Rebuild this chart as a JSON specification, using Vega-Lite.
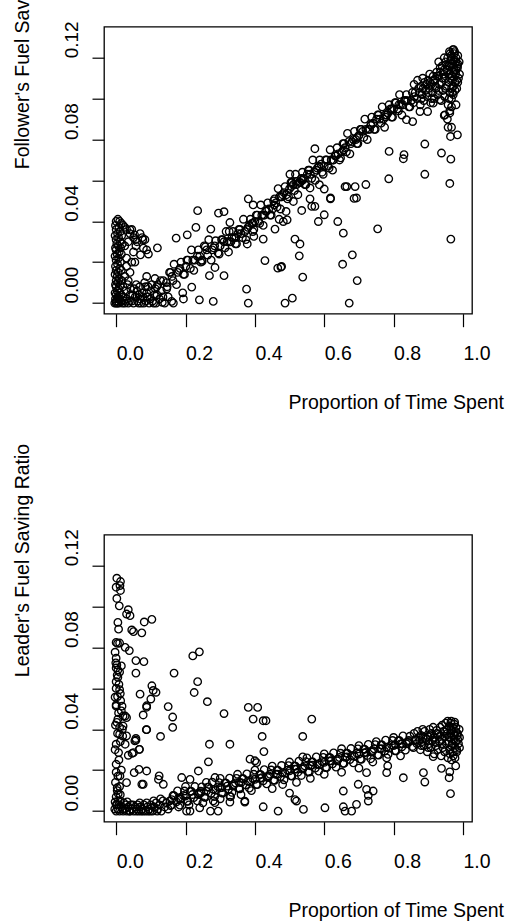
{
"$schema":"https://vega.github.io/schema/vega-lite/v6.json",
"autosize":{"type":"none"},
"padding":{"left":104,"top":26.7,"right":407,"bottom":895},
"background":"white",
"bounds":"flush",
"spacing":221,
"config":{
 "view":{"stroke":"black","strokeWidth":1.3},
 "axis":{"grid":false,"domain":false,"tickColor":"black","tickWidth":1.2,"labelColor":"black","titleColor":"black","labelFont":"Liberation Sans","titleFont":"Liberation Sans","titleFontWeight":"normal","labelOverlap":false,"labelFlush":false,"labelBound":false}
},
"datasets":{
"f":[
{"x":0.0,"y":0.04},{"x":0.005,"y":0.041},{"x":0.01,"y":0.04},{"x":0.015,"y":0.039},{"x":-0.002,"y":0.038},{"x":0.008,"y":0.037},{"x":0.02,"y":0.038},{"x":0.0,"y":0.036},{"x":0.012,"y":0.035},{"x":0.004,"y":0.034},{"x":-0.003,"y":0.033},{"x":0.016,"y":0.033},{"x":0.007,"y":0.032},{"x":0.0,"y":0.031},{"x":0.011,"y":0.03},{"x":0.002,"y":0.029},{"x":0.018,"y":0.029},{"x":0.006,"y":0.028},{"x":-0.002,"y":0.027},{"x":0.013,"y":0.027},{"x":0.0,"y":0.026},{"x":0.009,"y":0.025},{"x":0.003,"y":0.024},{"x":0.015,"y":0.024},{"x":-0.003,"y":0.023},{"x":0.007,"y":0.022},{"x":0.0,"y":0.021},{"x":0.012,"y":0.02},{"x":0.004,"y":0.019},{"x":-0.002,"y":0.018},{"x":0.01,"y":0.017},{"x":0.0,"y":0.016},{"x":0.006,"y":0.015},{"x":0.015,"y":0.016},{"x":-0.003,"y":0.014},{"x":0.003,"y":0.013},{"x":0.009,"y":0.012},{"x":0.0,"y":0.011},{"x":0.016,"y":0.011},{"x":0.005,"y":0.01},{"x":-0.002,"y":0.009},{"x":0.012,"y":0.009},{"x":0.0,"y":0.008},{"x":0.007,"y":0.007},{"x":0.02,"y":0.008},{"x":0.003,"y":0.006},{"x":-0.003,"y":0.005},{"x":0.01,"y":0.005},{"x":0.0,"y":0.004},{"x":0.015,"y":0.004},{"x":0.005,"y":0.003},{"x":-0.002,"y":0.002},{"x":0.009,"y":0.002},{"x":0.0,"y":0.001},{"x":0.013,"y":0.001},{"x":0.004,"y":0.0},{"x":0.0,"y":0.0},{"x":0.008,"y":0.0},{"x":0.018,"y":0.0},{"x":-0.004,"y":0.0},
{"x":0.025,"y":0.037},{"x":0.03,"y":0.036},{"x":0.045,"y":0.036},{"x":0.04,"y":0.034},{"x":0.05,"y":0.032},{"x":0.057,"y":0.028},{"x":0.069,"y":0.034},{"x":0.075,"y":0.032},{"x":0.077,"y":0.031},{"x":0.083,"y":0.031},{"x":0.088,"y":0.026},{"x":0.093,"y":0.024},{"x":0.119,"y":0.027},{"x":0.05,"y":0.025},{"x":0.06,"y":0.03},{"x":0.035,"y":0.03},{"x":0.025,"y":0.028},{"x":0.03,"y":0.022},{"x":0.045,"y":0.02},{"x":0.054,"y":0.02},{"x":0.04,"y":0.015},{"x":0.035,"y":0.011},{"x":0.088,"y":0.013},{"x":0.112,"y":0.012},{"x":0.136,"y":0.011},{"x":0.146,"y":0.007},{"x":0.117,"y":0.008},{"x":0.025,"y":0.013},{"x":0.03,"y":0.018},{"x":0.04,"y":0.0358},{"x":0.053,"y":0.0334},{"x":0.056,"y":0.031},{"x":0.07,"y":0.0236},{"x":0.0785,"y":0.0269},
{"x":0.025,"y":0.0},{"x":0.03,"y":0.002},{"x":0.035,"y":0.0},{"x":0.04,"y":0.004},{"x":0.045,"y":0.001},{"x":0.05,"y":0.0},{"x":0.055,"y":0.003},{"x":0.06,"y":0.006},{"x":0.065,"y":0.0},{"x":0.07,"y":0.002},{"x":0.075,"y":0.005},{"x":0.08,"y":0.0},{"x":0.085,"y":0.008},{"x":0.09,"y":0.003},{"x":0.095,"y":0.0},{"x":0.1,"y":0.006},{"x":0.105,"y":0.001},{"x":0.11,"y":0.004},{"x":0.115,"y":0.0},{"x":0.12,"y":0.009},{"x":0.125,"y":0.002},{"x":0.13,"y":0.006},{"x":0.14,"y":0.0},{"x":0.145,"y":0.01},{"x":0.15,"y":0.003},{"x":0.028,"y":0.006},{"x":0.033,"y":0.009},{"x":0.042,"y":0.007},{"x":0.048,"y":0.004},{"x":0.058,"y":0.009},{"x":0.062,"y":0.001},{"x":0.068,"y":0.008},{"x":0.072,"y":0.0},{"x":0.078,"y":0.003},{"x":0.082,"y":0.01},{"x":0.088,"y":0.005},{"x":0.092,"y":0.008},{"x":0.098,"y":0.002},{"x":0.103,"y":0.009},{"x":0.108,"y":0.0},{"x":0.113,"y":0.007},{"x":0.118,"y":0.004},{"x":0.128,"y":0.011},{"x":0.135,"y":0.003},{"x":0.02,"y":0.003},{"x":0.022,"y":0.001},{"x":0.038,"y":0.001},{"x":0.052,"y":0.007},{"x":0.066,"y":0.004},{"x":0.086,"y":0.001},
{"x":0.147,"y":0.008},{"x":0.154,"y":0.015},{"x":0.157,"y":0.015},{"x":0.164,"y":0.011},{"x":0.167,"y":0.019},{"x":0.174,"y":0.009},{"x":0.177,"y":0.015},{"x":0.184,"y":0.017},{"x":0.187,"y":0.020},{"x":0.194,"y":0.014},{"x":0.197,"y":0.014},{"x":0.204,"y":0.021},{"x":0.207,"y":0.021},{"x":0.214,"y":0.017},{"x":0.217,"y":0.026},{"x":0.224,"y":0.016},{"x":0.227,"y":0.021},{"x":0.234,"y":0.023},{"x":0.237,"y":0.026},{"x":0.244,"y":0.020},{"x":0.247,"y":0.021},{"x":0.254,"y":0.028},{"x":0.257,"y":0.0275},{"x":0.264,"y":0.0235},{"x":0.267,"y":0.031},{"x":0.274,"y":0.021},{"x":0.277,"y":0.026},{"x":0.284,"y":0.028},{"x":0.287,"y":0.0305},{"x":0.294,"y":0.0245},{"x":0.297,"y":0.024},{"x":0.304,"y":0.031},{"x":0.307,"y":0.031},{"x":0.314,"y":0.027},{"x":0.317,"y":0.035},{"x":0.324,"y":0.025},{"x":0.327,"y":0.030},{"x":0.334,"y":0.032},{"x":0.337,"y":0.035},{"x":0.344,"y":0.029},{"x":0.347,"y":0.029},{"x":0.354,"y":0.036},{"x":0.357,"y":0.036},{"x":0.364,"y":0.032},{"x":0.367,"y":0.041},{"x":0.374,"y":0.031},{"x":0.377,"y":0.036},{"x":0.384,"y":0.038},{"x":0.387,"y":0.041},{"x":0.394,"y":0.035},{"x":0.397,"y":0.036},{"x":0.404,"y":0.043},{"x":0.407,"y":0.043},{"x":0.414,"y":0.039},{"x":0.417,"y":0.048},{"x":0.424,"y":0.038},{"x":0.427,"y":0.043},{"x":0.434,"y":0.045},{"x":0.437,"y":0.049},{"x":0.444,"y":0.043},{"x":0.447,"y":0.043},{"x":0.454,"y":0.050},{"x":0.457,"y":0.051},{"x":0.464,"y":0.047},{"x":0.467,"y":0.056},{"x":0.474,"y":0.046},{"x":0.477,"y":0.052},{"x":0.484,"y":0.054},{"x":0.487,"y":0.057},{"x":0.494,"y":0.051},{"x":0.497,"y":0.052},{"x":0.504,"y":0.059},{"x":0.507,"y":0.059},{"x":0.514,"y":0.055},{"x":0.517,"y":0.063},{"x":0.524,"y":0.053},{"x":0.527,"y":0.059},{"x":0.534,"y":0.061},{"x":0.537,"y":0.064},{"x":0.544,"y":0.058},{"x":0.547,"y":0.058},{"x":0.554,"y":0.065},{"x":0.557,"y":0.065},{"x":0.564,"y":0.061},{"x":0.567,"y":0.070},{"x":0.574,"y":0.060},{"x":0.577,"y":0.065},{"x":0.584,"y":0.067},{"x":0.587,"y":0.070},{"x":0.594,"y":0.064},{"x":0.597,"y":0.063},{"x":0.604,"y":0.070},{"x":0.607,"y":0.070},{"x":0.614,"y":0.066},{"x":0.617,"y":0.075},{"x":0.624,"y":0.065},{"x":0.627,"y":0.070},{"x":0.634,"y":0.072},{"x":0.637,"y":0.076},{"x":0.644,"y":0.070},{"x":0.647,"y":0.071},{"x":0.654,"y":0.078},{"x":0.657,"y":0.078},{"x":0.664,"y":0.074},{"x":0.667,"y":0.083},{"x":0.674,"y":0.073},{"x":0.677,"y":0.078},{"x":0.684,"y":0.080},{"x":0.687,"y":0.084},{"x":0.694,"y":0.078},{"x":0.697,"y":0.078},{"x":0.704,"y":0.085},{"x":0.707,"y":0.085},{"x":0.714,"y":0.081},{"x":0.717,"y":0.090},{"x":0.724,"y":0.080},{"x":0.727,"y":0.085},{"x":0.734,"y":0.087},{"x":0.737,"y":0.091},{"x":0.744,"y":0.085},{"x":0.747,"y":0.085},{"x":0.754,"y":0.092},{"x":0.757,"y":0.092},{"x":0.764,"y":0.088},{"x":0.767,"y":0.096},{"x":0.774,"y":0.086},{"x":0.777,"y":0.091},{"x":0.784,"y":0.093},{"x":0.787,"y":0.097},{"x":0.794,"y":0.091},{"x":0.797,"y":0.091},{"x":0.804,"y":0.098},{"x":0.807,"y":0.098},{"x":0.814,"y":0.094},{"x":0.817,"y":0.102},{"x":0.824,"y":0.092},{"x":0.827,"y":0.097},{"x":0.834,"y":0.099},{"x":0.837,"y":0.102},{"x":0.844,"y":0.096},{"x":0.847,"y":0.096},{"x":0.854,"y":0.103},
{"x":0.3,"y":0.028},{"x":0.32,"y":0.030},{"x":0.34,"y":0.032},{"x":0.36,"y":0.034},{"x":0.38,"y":0.037},{"x":0.4,"y":0.040},{"x":0.42,"y":0.043},{"x":0.44,"y":0.046},{"x":0.46,"y":0.049},{"x":0.48,"y":0.053},{"x":0.5,"y":0.056},{"x":0.52,"y":0.058},{"x":0.54,"y":0.061},{"x":0.56,"y":0.063},{"x":0.58,"y":0.066},{"x":0.6,"y":0.067},{"x":0.62,"y":0.070},{"x":0.64,"y":0.073},{"x":0.66,"y":0.076},{"x":0.68,"y":0.079},{"x":0.7,"y":0.082},{"x":0.72,"y":0.085},{"x":0.74,"y":0.088},{"x":0.76,"y":0.090},{"x":0.78,"y":0.092},{"x":0.8,"y":0.095},{"x":0.82,"y":0.097},{"x":0.84,"y":0.099},
{"x":0.311,"y":0.030},{"x":0.331,"y":0.030},{"x":0.351,"y":0.034},{"x":0.371,"y":0.035},{"x":0.391,"y":0.039},{"x":0.411,"y":0.040},{"x":0.431,"y":0.045},{"x":0.451,"y":0.046},{"x":0.471,"y":0.052},{"x":0.491,"y":0.053},{"x":0.511,"y":0.058},{"x":0.531,"y":0.059},{"x":0.551,"y":0.063},{"x":0.571,"y":0.064},{"x":0.591,"y":0.068},{"x":0.611,"y":0.067},{"x":0.631,"y":0.072},{"x":0.651,"y":0.074},{"x":0.671,"y":0.079},{"x":0.691,"y":0.080},{"x":0.711,"y":0.084},{"x":0.731,"y":0.085},{"x":0.751,"y":0.090},{"x":0.771,"y":0.090},{"x":0.791,"y":0.095},{"x":0.811,"y":0.095},{"x":0.831,"y":0.099},{"x":0.851,"y":0.099},{"x":0.161,"y":0.013},{"x":0.181,"y":0.016},{"x":0.201,"y":0.018},{"x":0.221,"y":0.021},{"x":0.241,"y":0.023},{"x":0.261,"y":0.026},{"x":0.281,"y":0.027},
{"x":0.455,"y":0.048},{"x":0.505,"y":0.057},{"x":0.585,"y":0.067},{"x":0.625,"y":0.070},{"x":0.655,"y":0.075},{"x":0.695,"y":0.081},{"x":0.735,"y":0.087},{"x":0.775,"y":0.092},{"x":0.815,"y":0.097},{"x":0.795,"y":0.095},{"x":0.835,"y":0.099},{"x":0.345,"y":0.032},{"x":0.395,"y":0.039},{"x":0.425,"y":0.043},{"x":0.475,"y":0.052},{"x":0.535,"y":0.06},
{"x":0.52,"y":0.0595},{"x":0.539,"y":0.0603},{"x":0.559,"y":0.0563},{"x":0.573,"y":0.0473},{"x":0.511,"y":0.0497},{"x":0.49,"y":0.0448},{"x":0.482,"y":0.0399},{"x":0.6,"y":0.0558},{"x":0.665,"y":0.057},{"x":0.693,"y":0.0514},{"x":0.618,"y":0.0514},
{"x":0.857,"y":0.098},{"x":0.862,"y":0.103},{"x":0.859,"y":0.107},{"x":0.867,"y":0.100},{"x":0.872,"y":0.105},{"x":0.869,"y":0.109},{"x":0.877,"y":0.097},{"x":0.882,"y":0.102},{"x":0.879,"y":0.106},{"x":0.884,"y":0.110},{"x":0.887,"y":0.099},{"x":0.892,"y":0.104},{"x":0.889,"y":0.108},{"x":0.897,"y":0.101},{"x":0.902,"y":0.105},{"x":0.899,"y":0.109},{"x":0.904,"y":0.112},{"x":0.907,"y":0.098},{"x":0.912,"y":0.103},{"x":0.909,"y":0.107},{"x":0.914,"y":0.111},{"x":0.917,"y":0.100},{"x":0.922,"y":0.105},{"x":0.919,"y":0.109},{"x":0.924,"y":0.113},{"x":0.927,"y":0.102},{"x":0.932,"y":0.107},{"x":0.929,"y":0.111},{"x":0.934,"y":0.115},{"x":0.93,"y":0.118},{"x":0.937,"y":0.099},{"x":0.942,"y":0.104},{"x":0.939,"y":0.108},{"x":0.944,"y":0.112},{"x":0.94,"y":0.116},{"x":0.947,"y":0.101},{"x":0.952,"y":0.106},{"x":0.949,"y":0.110},{"x":0.954,"y":0.114},{"x":0.95,"y":0.118},{"x":0.946,"y":0.120},{"x":0.957,"y":0.097},{"x":0.962,"y":0.103},{"x":0.959,"y":0.108},{"x":0.964,"y":0.112},{"x":0.96,"y":0.116},{"x":0.956,"y":0.120},{"x":0.963,"y":0.122},{"x":0.962,"y":0.094},{"x":0.967,"y":0.105},{"x":0.964,"y":0.11},{"x":0.969,"y":0.115},{"x":0.965,"y":0.119},{"x":0.961,"y":0.123},{"x":0.967,"y":0.1},{"x":0.972,"y":0.106},{"x":0.969,"y":0.111},{"x":0.974,"y":0.114},{"x":0.97,"y":0.117},{"x":0.966,"y":0.121},{"x":0.973,"y":0.124},{"x":0.972,"y":0.102},{"x":0.977,"y":0.108},{"x":0.974,"y":0.113},{"x":0.979,"y":0.118},{"x":0.975,"y":0.122},{"x":0.971,"y":0.124},{"x":0.977,"y":0.104},{"x":0.982,"y":0.109},{"x":0.979,"y":0.112},{"x":0.984,"y":0.116},{"x":0.98,"y":0.12},{"x":0.976,"y":0.123},{"x":0.982,"y":0.105},{"x":0.987,"y":0.11},{"x":0.984,"y":0.115},{"x":0.989,"y":0.118},{"x":0.985,"y":0.121},{"x":0.955,"y":0.09},{"x":0.962,"y":0.093},{"x":0.98,"y":0.097},
{"x":0.86,"y":0.101},{"x":0.875,"y":0.103},{"x":0.885,"y":0.105},{"x":0.895,"y":0.107},{"x":0.905,"y":0.108},{"x":0.915,"y":0.109},{"x":0.925,"y":0.111},{"x":0.935,"y":0.113},{"x":0.945,"y":0.114},{"x":0.955,"y":0.116},{"x":0.965,"y":0.117},{"x":0.975,"y":0.119},{"x":0.985,"y":0.117},{"x":0.88,"y":0.1},{"x":0.9,"y":0.103},{"x":0.92,"y":0.106},{"x":0.94,"y":0.11},{"x":0.96,"y":0.112},{"x":0.98,"y":0.114},{"x":0.97,"y":0.109},{"x":0.95,"y":0.105},{"x":0.93,"y":0.104},{"x":0.91,"y":0.1},{"x":0.99,"y":0.112},{"x":0.985,"y":0.108},{"x":0.97,"y":0.103},{"x":0.96,"y":0.1},
{"x":0.754,"y":0.0363},{"x":0.965,"y":0.0313},{"x":0.89,"y":0.063},{"x":0.786,"y":0.0608},{"x":0.686,"y":0.0512},{"x":0.66,"y":0.057},{"x":0.689,"y":0.057},{"x":0.72,"y":0.058},{"x":0.962,"y":0.0585},{"x":0.938,"y":0.0734},{"x":0.965,"y":0.0704},{"x":0.787,"y":0.0742},{"x":0.83,"y":0.0726},{"x":0.828,"y":0.0706},{"x":0.89,"y":0.0778},{"x":0.957,"y":0.086},{"x":0.967,"y":0.086},{"x":0.964,"y":0.0815},{"x":0.984,"y":0.0823},{"x":0.946,"y":0.0918},{"x":0.967,"y":0.096},{"x":0.639,"y":0.0399},{"x":0.655,"y":0.0342},{"x":0.653,"y":0.019},{"x":0.681,"y":0.0236},{"x":0.695,"y":0.011},{"x":0.672,"y":0.0},{"x":0.5155,"y":0.0313},{"x":0.53,"y":0.0289},{"x":0.528,"y":0.0231},{"x":0.538,"y":0.0127},{"x":0.583,"y":0.0399},{"x":0.6,"y":0.0432},{"x":0.618,"y":0.051},{"x":0.573,"y":0.0755},{"x":0.429,"y":0.0208},{"x":0.466,"y":0.0171},{"x":0.477,"y":0.0179},{"x":0.487,"y":0.0},{"x":0.508,"y":0.0024},{"x":0.376,"y":0.0068},{"x":0.381,"y":0.0},{"x":0.24,"y":0.0016},{"x":0.28,"y":0.0008},{"x":0.165,"y":0.0},{"x":0.16,"y":0.0008},{"x":0.133,"y":0.0003},{"x":0.194,"y":0.002},{"x":0.192,"y":0.005},{"x":0.218,"y":0.0078},{"x":0.311,"y":0.0134},{"x":0.269,"y":0.0134},{"x":0.285,"y":0.0174},{"x":0.248,"y":0.0204},{"x":0.235,"y":0.0452},{"x":0.295,"y":0.044},{"x":0.311,"y":0.0447},{"x":0.173,"y":0.0318},{"x":0.23,"y":0.037},{"x":0.205,"y":0.0334},{"x":0.273,"y":0.0362},{"x":0.328,"y":0.0394},{"x":0.326,"y":0.035},{"x":0.395,"y":0.048},{"x":0.381,"y":0.051},{"x":0.378,"y":0.0289},{"x":0.397,"y":0.0326},{"x":0.424,"y":0.0313},{"x":0.458,"y":0.0362},{"x":0.47,"y":0.041},{"x":0.493,"y":0.0407},{"x":0.501,"y":0.063},{"x":0.535,"y":0.0453},{"x":0.559,"y":0.051},{"x":0.564,"y":0.0473},{"x":0.586,"y":0.0579},{"x":0.837,"y":0.0897},{"x":0.876,"y":0.0937},{"x":0.898,"y":0.0937},{"x":0.855,"y":0.0888},{"x":0.914,"y":0.0978},{"x":0.933,"y":0.0995},{"x":0.948,"y":0.0921},{"x":0.475,"y":0.0176}
],
"l":[
{"x":0.002,"y":0.1139},{"x":0.0125,"y":0.1123},{"x":0.0,"y":0.1095},{"x":0.011,"y":0.1103},{"x":0.0125,"y":0.1079},{"x":0.002,"y":0.104},{"x":0.009,"y":0.1004},{"x":0.035,"y":0.0985},{"x":0.03,"y":0.0964},{"x":0.04,"y":0.0956},{"x":0.005,"y":0.0923},{"x":0.007,"y":0.089},{"x":0.0,"y":0.0825},{"x":0.004,"y":0.082},{"x":0.01,"y":0.0822},{"x":-0.003,"y":0.0777},{"x":0.0,"y":0.0748},{"x":-0.001,"y":0.0725},{"x":0.002,"y":0.0715},{"x":0.026,"y":0.0801},{"x":0.038,"y":0.0785},{"x":0.057,"y":0.0736},{"x":0.08,"y":0.0731},{"x":0.045,"y":0.0886},{"x":0.05,"y":0.0878},{"x":0.074,"y":0.0872},{"x":0.081,"y":0.0925},{"x":0.103,"y":0.0938},{"x":0.005,"y":0.0654},{"x":0.0,"y":0.0633},{"x":0.01,"y":0.0594},{"x":-0.003,"y":0.0557},{"x":0.0,"y":0.0513},{"x":0.002,"y":0.0434},{"x":0.012,"y":0.0575},{"x":0.017,"y":0.0513},{"x":0.02,"y":0.0465},{"x":0.01,"y":0.0376},{"x":0.0,"y":0.0327},{"x":0.007,"y":0.0286},{"x":0.0,"y":0.0229},{"x":0.005,"y":0.0171},{"x":0.057,"y":0.0675},{"x":0.069,"y":0.0572},{"x":0.103,"y":0.0613},{"x":0.107,"y":0.059},{"x":0.115,"y":0.0581},{"x":0.1,"y":0.0548},{"x":0.088,"y":0.0508},{"x":0.078,"y":0.047},{"x":0.088,"y":0.0398},{"x":0.03,"y":0.0368},{"x":0.057,"y":0.0347},{"x":0.05,"y":0.0286},{"x":0.067,"y":0.0302},{"x":0.035,"y":0.0273},{"x":0.026,"y":0.0327},{"x":0.128,"y":0.0365},{"x":0.15,"y":0.0511},{"x":0.163,"y":0.046},{"x":0.163,"y":0.0409},{"x":0.167,"y":0.0675},{"x":0.221,"y":0.0759},{"x":0.24,"y":0.0779},{"x":0.235,"y":0.0633},{"x":0.225,"y":0.058},{"x":0.263,"y":0.0535},{"x":0.311,"y":0.0477},{"x":0.328,"y":0.0327},{"x":0.269,"y":0.0327},{"x":0.266,"y":0.0241},{"x":0.237,"y":0.0196},{"x":0.381,"y":0.0507},{"x":0.408,"y":0.0507},{"x":0.395,"y":0.045},{"x":0.424,"y":0.0442},{"x":0.432,"y":0.0442},{"x":0.421,"y":0.0365},{"x":0.426,"y":0.0291},{"x":0.386,"y":0.0254},{"x":0.4,"y":0.0246},{"x":0.405,"y":0.0237},{"x":0.564,"y":0.045},{"x":0.538,"y":0.0365},{"x":0.538,"y":0.0265},{"x":0.074,"y":0.0131},{"x":0.088,"y":0.0196},{"x":0.122,"y":0.0155},{"x":0.136,"y":0.0131},
{"x":0.0,"y":0.07},{"x":0.005,"y":0.069},{"x":0.01,"y":0.068},{"x":0.003,"y":0.0665},{"x":0.015,"y":0.071},{"x":0.008,"y":0.062},{"x":0.0,"y":0.06},{"x":0.004,"y":0.056},{"x":0.013,"y":0.054},{"x":0.0,"y":0.052},{"x":0.007,"y":0.048},{"x":0.015,"y":0.049},{"x":0.005,"y":0.045},{"x":-0.002,"y":0.042},{"x":0.01,"y":0.041},{"x":0.018,"y":0.04},{"x":0.004,"y":0.038},{"x":0.012,"y":0.034},{"x":-0.003,"y":0.03},{"x":0.008,"y":0.025},{"x":0.015,"y":0.02},{"x":0.0,"y":0.019},{"x":-0.002,"y":0.014},{"x":0.01,"y":0.012},{"x":0.003,"y":0.01},{"x":0.012,"y":0.008},{"x":0.0,"y":0.007},{"x":0.006,"y":0.005},{"x":0.0,"y":0.003},{"x":-0.003,"y":0.0045},
{"x":0.026,"y":0.0465},{"x":0.03,"y":0.0457},{"x":0.02,"y":0.0416},{"x":0.019,"y":0.0367},{"x":0.046,"y":0.0282},{"x":0.054,"y":0.0343},{"x":0.057,"y":0.0355},{"x":0.066,"y":0.0204},{"x":0.078,"y":0.0131},{"x":0.067,"y":0.0302},{"x":0.088,"y":0.0515},{"x":0.087,"y":0.0398},{"x":0.052,"y":0.0188},{"x":0.03,"y":0.0139},{"x":0.011,"y":0.0172},{"x":0.003,"y":0.0114},{"x":0.006,"y":0.0085},{"x":0.002,"y":0.0033},
{"x":0.0,"y":0.0},{"x":0.005,"y":0.001},{"x":0.01,"y":0.0},{"x":0.015,"y":0.002},{"x":0.02,"y":0.0},{"x":0.025,"y":0.001},{"x":0.03,"y":0.0},{"x":0.035,"y":0.002},{"x":0.04,"y":0.0},{"x":0.045,"y":0.001},{"x":0.05,"y":0.0},{"x":0.055,"y":0.002},{"x":0.06,"y":0.001},{"x":0.065,"y":0.0},{"x":0.07,"y":0.002},{"x":0.075,"y":0.001},{"x":0.08,"y":0.003},{"x":0.085,"y":0.0},{"x":0.09,"y":0.002},{"x":0.095,"y":0.001},{"x":0.1,"y":0.003},{"x":0.105,"y":0.0},{"x":0.11,"y":0.002},{"x":0.115,"y":0.004},{"x":0.12,"y":0.001},{"x":0.125,"y":0.003},{"x":0.13,"y":0.0},{"x":0.135,"y":0.005},{"x":0.14,"y":0.002},{"x":0.145,"y":0.004},{"x":0.15,"y":0.001},{"x":0.155,"y":0.005},{"x":0.16,"y":0.003},{"x":-0.004,"y":0.001},{"x":0.008,"y":0.003},{"x":0.018,"y":0.001},{"x":0.028,"y":0.003},{"x":0.038,"y":0.0},{"x":0.048,"y":0.003},{"x":0.058,"y":0.0},{"x":0.068,"y":0.004},{"x":0.078,"y":0.0},{"x":0.088,"y":0.004},{"x":0.098,"y":0.0},{"x":0.108,"y":0.005},{"x":0.118,"y":0.0},{"x":0.128,"y":0.006},{"x":0.012,"y":0.005},{"x":0.022,"y":0.004},{"x":0.032,"y":0.0045},{"x":0.042,"y":0.003},{"x":0.062,"y":0.003},{"x":0.072,"y":0.0},{"x":0.092,"y":0.0},
{"x":0.157,"y":0.0026},{"x":0.164,"y":0.0076},{"x":0.167,"y":0.0075},{"x":0.174,"y":0.0045},{"x":0.177,"y":0.0099},{"x":0.184,"y":0.0029},{"x":0.187,"y":0.006},{"x":0.194,"y":0.0076},{"x":0.197,"y":0.0098},{"x":0.204,"y":0.0048},{"x":0.207,"y":0.0047},{"x":0.214,"y":0.0097},{"x":0.217,"y":0.0096},{"x":0.224,"y":0.0066},{"x":0.227,"y":0.012},{"x":0.234,"y":0.005},{"x":0.237,"y":0.0081},{"x":0.244,"y":0.0097},{"x":0.247,"y":0.0118},{"x":0.254,"y":0.0068},{"x":0.257,"y":0.0067},{"x":0.264,"y":0.0117},{"x":0.267,"y":0.0117},{"x":0.274,"y":0.0087},{"x":0.277,"y":0.0141},{"x":0.284,"y":0.0071},{"x":0.287,"y":0.0102},{"x":0.294,"y":0.0118},{"x":0.297,"y":0.0139},{"x":0.304,"y":0.0089},{"x":0.307,"y":0.0088},{"x":0.314,"y":0.0138},{"x":0.317,"y":0.0137},{"x":0.324,"y":0.0107},{"x":0.327,"y":0.0161},{"x":0.334,"y":0.0091},{"x":0.337,"y":0.0122},{"x":0.344,"y":0.0138},{"x":0.347,"y":0.016},{"x":0.354,"y":0.011},{"x":0.357,"y":0.0109},{"x":0.364,"y":0.0159},{"x":0.367,"y":0.0158},{"x":0.374,"y":0.0128},{"x":0.377,"y":0.0182},{"x":0.384,"y":0.0112},{"x":0.387,"y":0.0143},{"x":0.394,"y":0.0159},{"x":0.397,"y":0.018},{"x":0.404,"y":0.013},{"x":0.407,"y":0.0129},{"x":0.414,"y":0.0179},{"x":0.417,"y":0.0178},{"x":0.424,"y":0.0148},{"x":0.427,"y":0.0203},{"x":0.434,"y":0.0133},{"x":0.437,"y":0.0164},{"x":0.444,"y":0.018},{"x":0.447,"y":0.0201},{"x":0.454,"y":0.0151},{"x":0.457,"y":0.015},{"x":0.464,"y":0.02},{"x":0.467,"y":0.0199},{"x":0.474,"y":0.0169},{"x":0.477,"y":0.0223},{"x":0.484,"y":0.0153},{"x":0.487,"y":0.0184},{"x":0.494,"y":0.02},{"x":0.497,"y":0.0222},{"x":0.504,"y":0.0172},{"x":0.507,"y":0.0171},{"x":0.514,"y":0.0221},{"x":0.517,"y":0.022},{"x":0.524,"y":0.019},{"x":0.527,"y":0.0244},{"x":0.534,"y":0.0174},{"x":0.537,"y":0.0205},{"x":0.544,"y":0.0221},{"x":0.547,"y":0.0242},{"x":0.554,"y":0.0192},{"x":0.557,"y":0.0191},{"x":0.564,"y":0.0241},{"x":0.567,"y":0.024},{"x":0.574,"y":0.021},{"x":0.577,"y":0.0265},{"x":0.584,"y":0.0195},{"x":0.587,"y":0.0226},{"x":0.594,"y":0.0242},{"x":0.597,"y":0.0263},{"x":0.604,"y":0.0213},{"x":0.607,"y":0.0212},{"x":0.614,"y":0.0262},{"x":0.617,"y":0.0261},{"x":0.624,"y":0.0231},{"x":0.627,"y":0.0285},{"x":0.634,"y":0.0215},{"x":0.637,"y":0.0246},{"x":0.644,"y":0.0262},{"x":0.647,"y":0.0283},{"x":0.654,"y":0.0233},{"x":0.657,"y":0.0233},{"x":0.664,"y":0.0283},{"x":0.667,"y":0.0282},{"x":0.674,"y":0.0252},{"x":0.677,"y":0.0306},{"x":0.684,"y":0.0236},{"x":0.687,"y":0.0267},{"x":0.694,"y":0.0283},{"x":0.697,"y":0.0304},{"x":0.704,"y":0.0254},{"x":0.707,"y":0.0253},{"x":0.714,"y":0.0303},{"x":0.717,"y":0.0302},{"x":0.724,"y":0.0272},{"x":0.727,"y":0.0326},{"x":0.734,"y":0.0256},{"x":0.737,"y":0.0288},{"x":0.744,"y":0.0304},{"x":0.747,"y":0.0325},{"x":0.754,"y":0.0275},{"x":0.757,"y":0.0274},{"x":0.764,"y":0.0324},{"x":0.767,"y":0.0323},{"x":0.774,"y":0.0293},{"x":0.777,"y":0.0347},{"x":0.784,"y":0.0277},{"x":0.787,"y":0.0308},{"x":0.794,"y":0.0324},{"x":0.797,"y":0.0345},{"x":0.804,"y":0.0295},{"x":0.807,"y":0.0295},{"x":0.814,"y":0.0345},{"x":0.817,"y":0.0344},{"x":0.824,"y":0.0314},{"x":0.827,"y":0.0368},{"x":0.834,"y":0.0298},{"x":0.837,"y":0.0329},{"x":0.844,"y":0.0345},{"x":0.847,"y":0.0366},{"x":0.854,"y":0.0316},
{"x":0.16,"y":0.0056},{"x":0.18,"y":0.0064},{"x":0.2,"y":0.0073},{"x":0.22,"y":0.0081},{"x":0.24,"y":0.0089},{"x":0.26,"y":0.0097},{"x":0.28,"y":0.0106},{"x":0.3,"y":0.0114},{"x":0.32,"y":0.0122},{"x":0.34,"y":0.013},{"x":0.36,"y":0.0139},{"x":0.38,"y":0.0147},{"x":0.4,"y":0.0155},{"x":0.42,"y":0.0163},{"x":0.44,"y":0.0172},{"x":0.46,"y":0.018},{"x":0.48,"y":0.0188},{"x":0.5,"y":0.0197},{"x":0.52,"y":0.0205},{"x":0.54,"y":0.0213},{"x":0.56,"y":0.0221},{"x":0.58,"y":0.023},{"x":0.6,"y":0.0238},{"x":0.62,"y":0.0246},{"x":0.64,"y":0.0254},{"x":0.66,"y":0.0263},{"x":0.68,"y":0.0271},{"x":0.7,"y":0.0279},{"x":0.72,"y":0.0287},{"x":0.74,"y":0.0296},{"x":0.76,"y":0.0304},{"x":0.78,"y":0.0312},{"x":0.8,"y":0.032},{"x":0.82,"y":0.0329},{"x":0.84,"y":0.0337},
{"x":0.185,"y":0.006},{"x":0.245,"y":0.009},{"x":0.305,"y":0.0115},{"x":0.355,"y":0.014},{"x":0.415,"y":0.016},{"x":0.465,"y":0.018},{"x":0.515,"y":0.0205},{"x":0.565,"y":0.0225},{"x":0.615,"y":0.0245},{"x":0.665,"y":0.0265},{"x":0.715,"y":0.0285},{"x":0.765,"y":0.0305},{"x":0.805,"y":0.0325},{"x":0.825,"y":0.033},{"x":0.845,"y":0.034},
{"x":0.18,"y":0.002},{"x":0.21,"y":0.003},{"x":0.25,"y":0.004},{"x":0.28,"y":0.005},{"x":0.3,"y":0.006},{"x":0.33,"y":0.007},{"x":0.36,"y":0.008},{"x":0.39,"y":0.01},{"x":0.45,"y":0.011},{"x":0.48,"y":0.013},{"x":0.52,"y":0.014},{"x":0.56,"y":0.016},{"x":0.6,"y":0.018},{"x":0.65,"y":0.019},{"x":0.7,"y":0.021},{"x":0.74,"y":0.024},{"x":0.78,"y":0.026},{"x":0.82,"y":0.027},
{"x":0.2,"y":0.012},{"x":0.26,"y":0.014},{"x":0.3,"y":0.016},{"x":0.35,"y":0.018},{"x":0.4,"y":0.02},{"x":0.45,"y":0.022},{"x":0.5,"y":0.024},{"x":0.55,"y":0.026},{"x":0.6,"y":0.028},{"x":0.65,"y":0.0305},{"x":0.7,"y":0.032},{"x":0.75,"y":0.034},{"x":0.8,"y":0.036},
{"x":0.857,"y":0.031},{"x":0.862,"y":0.0345},{"x":0.859,"y":0.038},{"x":0.867,"y":0.033},{"x":0.872,"y":0.036},{"x":0.869,"y":0.039},{"x":0.877,"y":0.03},{"x":0.882,"y":0.034},{"x":0.879,"y":0.037},{"x":0.884,"y":0.04},{"x":0.887,"y":0.032},{"x":0.892,"y":0.0355},{"x":0.889,"y":0.039},{"x":0.897,"y":0.029},{"x":0.902,"y":0.033},{"x":0.899,"y":0.0365},{"x":0.904,"y":0.04},{"x":0.907,"y":0.031},{"x":0.912,"y":0.0345},{"x":0.909,"y":0.038},{"x":0.914,"y":0.041},{"x":0.917,"y":0.028},{"x":0.922,"y":0.032},{"x":0.919,"y":0.036},{"x":0.924,"y":0.0395},{"x":0.927,"y":0.03},{"x":0.932,"y":0.034},{"x":0.929,"y":0.0375},{"x":0.934,"y":0.041},{"x":0.937,"y":0.027},{"x":0.942,"y":0.031},{"x":0.939,"y":0.035},{"x":0.944,"y":0.039},{"x":0.94,"y":0.042},{"x":0.947,"y":0.029},{"x":0.952,"y":0.033},{"x":0.949,"y":0.0365},{"x":0.954,"y":0.04},{"x":0.95,"y":0.043},{"x":0.957,"y":0.026},{"x":0.962,"y":0.03},{"x":0.959,"y":0.034},{"x":0.964,"y":0.038},{"x":0.96,"y":0.0415},{"x":0.956,"y":0.044},{"x":0.962,"y":0.028},{"x":0.967,"y":0.032},{"x":0.964,"y":0.036},{"x":0.969,"y":0.0395},{"x":0.965,"y":0.043},{"x":0.967,"y":0.025},{"x":0.972,"y":0.029},{"x":0.969,"y":0.033},{"x":0.974,"y":0.037},{"x":0.97,"y":0.041},{"x":0.966,"y":0.044},{"x":0.972,"y":0.027},{"x":0.977,"y":0.031},{"x":0.974,"y":0.035},{"x":0.979,"y":0.039},{"x":0.975,"y":0.0425},{"x":0.977,"y":0.026},{"x":0.982,"y":0.03},{"x":0.979,"y":0.034},{"x":0.984,"y":0.038},{"x":0.98,"y":0.041},{"x":0.976,"y":0.0435},{"x":0.982,"y":0.029},{"x":0.987,"y":0.033},{"x":0.984,"y":0.037},{"x":0.989,"y":0.04},
{"x":0.865,"y":0.035},{"x":0.875,"y":0.0345},{"x":0.885,"y":0.036},{"x":0.895,"y":0.035},{"x":0.905,"y":0.037},{"x":0.915,"y":0.036},{"x":0.925,"y":0.038},{"x":0.935,"y":0.037},{"x":0.945,"y":0.039},{"x":0.955,"y":0.038},{"x":0.965,"y":0.04},{"x":0.975,"y":0.037},{"x":0.985,"y":0.035},{"x":0.99,"y":0.031},{"x":0.99,"y":0.036},{"x":0.94,"y":0.033},{"x":0.96,"y":0.036},{"x":0.92,"y":0.034},{"x":0.9,"y":0.031},{"x":0.88,"y":0.032},
{"x":0.655,"y":0.0098},{"x":0.698,"y":0.0131},{"x":0.722,"y":0.0188},{"x":0.741,"y":0.0098},{"x":0.727,"y":0.0077},{"x":0.727,"y":0.0049},{"x":0.693,"y":0.0033},{"x":0.655,"y":0.0021},{"x":0.679,"y":0.0},{"x":0.66,"y":0.0},{"x":0.602,"y":0.0016},{"x":0.54,"y":0.0008},{"x":0.467,"y":0.0},{"x":0.424,"y":0.0021},{"x":0.371,"y":0.0044},{"x":0.328,"y":0.0044},{"x":0.285,"y":0.0041},{"x":0.294,"y":0.0},{"x":0.272,"y":0.0},{"x":0.241,"y":0.0016},{"x":0.213,"y":0.0},{"x":0.203,"y":0.0},{"x":0.78,"y":0.0188},{"x":0.828,"y":0.0163},{"x":0.886,"y":0.0188},{"x":0.89,"y":0.0142},{"x":0.914,"y":0.0266},{"x":0.938,"y":0.0209},{"x":0.962,"y":0.0192},{"x":0.96,"y":0.0163},{"x":0.964,"y":0.0085},{"x":0.979,"y":0.0221},{"x":0.5,"y":0.0088},{"x":0.5155,"y":0.0056},{"x":0.52,"y":0.0049},{"x":0.328,"y":0.0072},{"x":0.371,"y":0.0049},{"x":0.783,"y":0.0221},{"x":0.722,"y":0.0106},{"x":0.124,"y":0.0172},{"x":0.189,"y":0.0164},{"x":0.213,"y":0.0155},{"x":0.285,"y":0.0164}
]
},
"vconcat":[
{
 "width":368,"height":287,
 "data":{"name":"f"},
 "mark":{"type":"point","shape":"circle","filled":false,"stroke":"black","strokeWidth":1.35,"size":56,"opacity":1},
 "encoding":{
  "x":{"field":"x","type":"quantitative","scale":{"domain":[-0.035,1.026],"nice":false,"zero":false},
   "axis":{"values":[0,0.2,0.4,0.6,0.8,1],"format":".1f","tickSize":13,"labelAlign":"left","labelBaseline":"top","labelPadding":18,"labelFontSize":19.5,"title":"Proportion of Time Spent","titleAlign":"left","titleBaseline":"alphabetic","titleAngle":0,"titleX":184,"titleY":95,"titleFontSize":19.5}},
  "y":{"field":"y","type":"quantitative","scale":{"domain":[-0.0052,0.1352],"nice":false,"zero":false},
   "axis":{"values":[0,0.02,0.04,0.06,0.08,0.1,0.12],"format":".2f","labelExpr":"indexof(['0.00','0.04','0.08','0.12'], datum.label) >= 0 ? datum.label : ''","tickSize":12,"labelAngle":-90,"labelAlign":"left","labelBaseline":"alphabetic","labelPadding":15,"labelFontSize":19,"title":"Follower's Fuel Saving Ratio","titleAngle":-90,"titleAlign":"left","titleBaseline":"alphabetic","titleX":-76,"titleY":142,"titleFontSize":19.5}}
 }
},
{
 "width":368,"height":287,
 "data":{"name":"l"},
 "mark":{"type":"point","shape":"circle","filled":false,"stroke":"black","strokeWidth":1.35,"size":56,"opacity":1},
 "encoding":{
  "x":{"field":"x","type":"quantitative","scale":{"domain":[-0.035,1.026],"nice":false,"zero":false},
   "axis":{"values":[0,0.2,0.4,0.6,0.8,1],"format":".1f","tickSize":13,"labelAlign":"left","labelBaseline":"top","labelPadding":18,"labelFontSize":19.5,"title":"Proportion of Time Spent","titleAlign":"left","titleBaseline":"alphabetic","titleAngle":0,"titleX":184,"titleY":95,"titleFontSize":19.5}},
  "y":{"field":"y","type":"quantitative","scale":{"domain":[-0.0052,0.1352],"nice":false,"zero":false},
   "axis":{"values":[0,0.02,0.04,0.06,0.08,0.1,0.12],"format":".2f","labelExpr":"indexof(['0.00','0.04','0.08','0.12'], datum.label) >= 0 ? datum.label : ''","tickSize":12,"labelAngle":-90,"labelAlign":"left","labelBaseline":"alphabetic","labelPadding":15,"labelFontSize":19,"title":"Leader's Fuel Saving Ratio","titleAngle":-90,"titleAlign":"left","titleBaseline":"alphabetic","titleX":-76,"titleY":142,"titleFontSize":19.5}}
 }
}
]
}
